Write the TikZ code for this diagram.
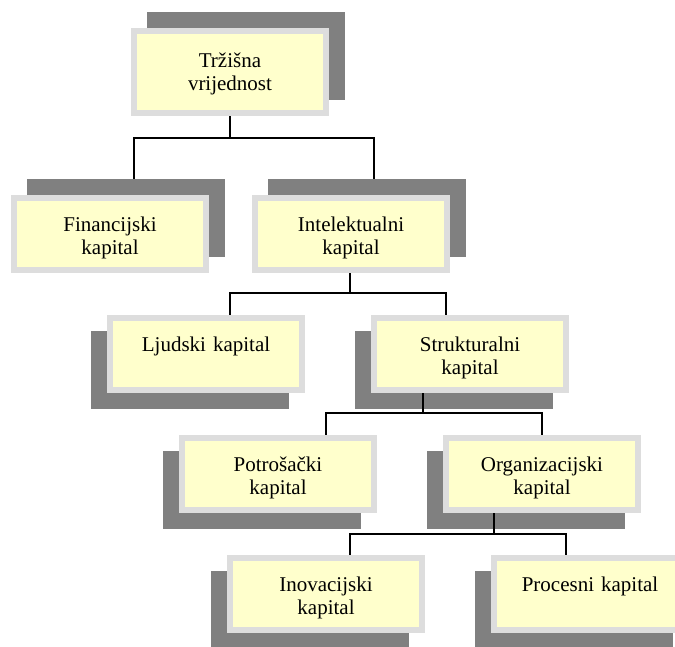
\documentclass[tikz,border=0pt]{standalone}
\usepackage{fontspec}
\setmainfont{Liberation Serif}
\usetikzlibrary{calc,backgrounds}
\definecolor{boxfill}{HTML}{FFFFCC}
\definecolor{boxrim}{HTML}{DDDDDD}
\definecolor{shade}{HTML}{808080}
\tikzset{
  kbox/.style={rectangle, draw=boxrim, fill=boxfill, line width=6pt,
    minimum width=192pt, minimum height=72pt, inner sep=0pt,
    text width=186pt, align=center, text height=33pt, text depth=39pt,
    font=\fontsize{21}{23}\selectfont},
  tallbox/.style={kbox, minimum height=82pt, text height=36pt, text depth=46pt},
  link/.style={line width=1.6pt, draw=black},
  shadow/.style={fill=shade},
}
\begin{document}
\begin{tikzpicture}[x=1pt, y=-1pt]
\useasboundingbox (0,0) rectangle (675,646);
\clip (0,0) rectangle (675,646);

% boxes
\node[tallbox] (trz) at (230,72)  {Tržišna\\vrijednost};
\node[kbox] (fin) at (110,234) {Financijski\\kapital};
\node[kbox] (int) at (351,234) {Intelektualni\\kapital};
\node[kbox] (lju) at (206,354) {Ljudski kapital};
\node[kbox] (str) at (470,354) {Strukturalni\\kapital};
\node[kbox] (pot) at (278,474) {Potrošački\\kapital};
\node[kbox] (org) at (542,474) {Organizacijski\\kapital};
\node[kbox] (ino) at (326,594) {Inovacijski\\kapital};
\node[kbox] (pro) at (590,594) {Procesni kapital};

% drop shadows behind the boxes
\begin{pgfonlayer}{background}
  \foreach \n in {trz,fin,int}
    \fill[shadow] ($(\n.south west)+(16,-16)$) rectangle ($(\n.north east)+(16,-16)$);
  \foreach \n in {lju,str,pot,org,ino,pro}
    \fill[shadow] ($(\n.south west)+(-16,16)$) rectangle ($(\n.north east)+(-16,16)$);
\end{pgfonlayer}

% tree connectors
\draw[link] (trz.south) -- ++(0,22) -| ($(fin.north)+(24,-16)$);
\draw[link] (trz.south) -- ++(0,22) -| ($(int.north)+(23,-16)$);
\draw[link] ($(int.south)+(-1,0)$) -- ++(0,20) -| ($(lju.north)+(24,0)$);
\draw[link] ($(int.south)+(-1,0)$) -- ++(0,20) -| ($(str.north)+(-24,0)$);
\draw[link] ($(str.south)+(-47,0)$) -- ++(0,20) -| ($(pot.north)+(48,0)$);
\draw[link] ($(str.south)+(-47,0)$) -- ++(0,20) -| (org.north);
\draw[link] ($(org.south)+(-48,0)$) -- ++(0,21) -| ($(ino.north)+(24,0)$);
\draw[link] ($(org.south)+(-48,0)$) -- ++(0,21) -| ($(pro.north)+(-24,0)$);
\end{tikzpicture}
\end{document}
